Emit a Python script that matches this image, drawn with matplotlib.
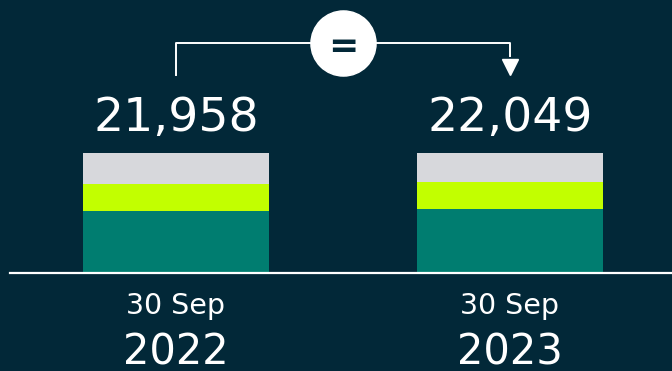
import matplotlib.pyplot as plt

# headcount at each period end, split into three groups
periods = ['30 Sep\n2022', '30 Sep\n2023']
dates = ['30 Sep', '30 Sep']
years = ['2022', '2023']
teal_part = [11430, 11778]
lime_part = [4842, 4897]
grey_part = [5686, 5374]
totals = [21958, 22049]

bg = '#022838'
c_teal = '#007d70'
c_lime = '#c2ff00'
c_grey = '#d7d8dc'

fig = plt.figure(figsize=(6.72, 3.71), dpi=100, facecolor=bg)
ax = fig.add_axes([0, 98 / 371, 1, 273 / 371])
ax.set_facecolor(bg)
ax.axis('off')

x = [0, 1]
w = 0.557
lime_bottom = teal_part
grey_bottom = [a + b for a, b in zip(teal_part, lime_part)]
ax.bar(x, teal_part, w, color=c_teal)
ax.bar(x, lime_part, w, bottom=lime_bottom, color=c_lime)
ax.bar(x, grey_part, w, bottom=grey_bottom, color=c_grey)

ax.set_xlim(-176 / 334, 496 / 334)
ax.set_ylim(0, 50070)

# baseline
ax.axhline(0, xmin=10 / 672, xmax=1, color='white', lw=1.6, clip_on=False)

for xi, tot, d, yr in zip(x, totals, dates, years):
    ax.annotate(f'{tot:,}', (xi, tot), xytext=(0, 16), textcoords='offset points',
                ha='center', va='baseline', color='white', fontsize=34)
    ax.annotate(d, (xi, 0), xytext=(0, -29.6), textcoords='offset points',
                ha='center', va='baseline', color='white', fontsize=20.5,
                annotation_clip=False)
    ax.annotate(yr, (xi, 0), xytext=(0, -66), textcoords='offset points',
                ha='center', va='baseline', color='white', fontsize=30,
                annotation_clip=False)

# connector from first total to second, with "=" badge in the middle
y_lo = 198 * 183.4
y_hi = 229.7 * 183.4
y_arrow = 206 * 183.4
ax.plot([x[0], x[0], x[1], x[1]], [y_lo, y_hi, y_hi, y_arrow + 2000],
        color='white', lw=1.4, clip_on=False)
ax.plot([x[1]], [y_arrow], marker='v', color='white', markersize=11.5,
        clip_on=False)
ax.scatter([0.5], [y_hi], s=2200, color='white', zorder=5, clip_on=False)
ax.text(0.5, y_hi, '=', ha='center', va='center_baseline', color=bg,
        fontsize=26, fontweight='bold', zorder=6)

fig.savefig('out.png', dpi=100, facecolor=bg)
